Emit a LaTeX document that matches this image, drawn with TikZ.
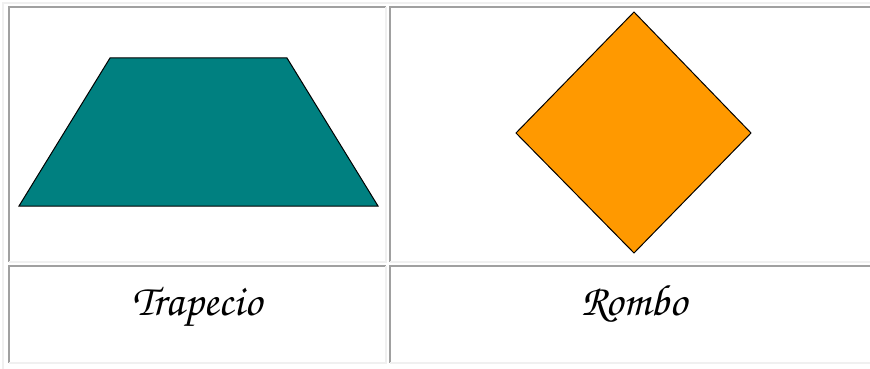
\documentclass[tikz,border=0pt]{standalone}
\usepackage{fontspec}
\newfontfamily\cursiva{texgyrechorus-mediumitalic.otf}
\usepackage{tikz}

\definecolor{verdeazul}{RGB}{0,128,128}
\definecolor{naranja}{RGB}{255,153,0}
\definecolor{bordeosc}{RGB}{160,160,160}
\definecolor{bordeclaro}{RGB}{240,240,240}

\begin{document}
\begin{tikzpicture}[
    x=1pt, y=-1pt,
    bordealto/.style={draw=bordeosc, line width=2pt},
    bordebajo/.style={draw=bordeclaro, line width=2pt},
    figura/.style={draw=black, line width=1pt},
    nombre/.style={anchor=base, font=\fontsize{44}{48}\cursiva}
]
    \useasboundingbox (0,0) rectangle (870,369);

    % marco de la tabla
    \draw[bordebajo] (3,369) -- (3,3) -- (870,3);

    % celdas de arriba
    \draw[bordealto] (9,262) -- (9,7) -- (386,7);
    \draw[bordebajo] (386,7) -- (386,262) -- (9,262);
    \draw[bordealto] (390,262) -- (390,7) -- (870,7);
    \draw[bordebajo] (390,262) -- (870,262);

    % celdas de abajo
    \draw[bordealto] (9,363) -- (9,266) -- (386,266);
    \draw[bordebajo] (386,266) -- (386,363) -- (9,363);
    \draw[bordealto] (390,363) -- (390,266) -- (870,266);
    \draw[bordebajo] (390,363) -- (870,363);

    % figuras
    \filldraw[figura, fill=verdeazul] (19,206) -- (110,58) -- (287,58) -- (378,206) -- cycle;
    \filldraw[figura, fill=naranja] (634,12) -- (751,133) -- (634,253) -- (516,133) -- cycle;

    % nombres
    \node[nombre] (trapecio) at (197,315) {Trapecio};
    \node[nombre] (rombo) at (634,315) {Rombo};
\end{tikzpicture}
\end{document}
